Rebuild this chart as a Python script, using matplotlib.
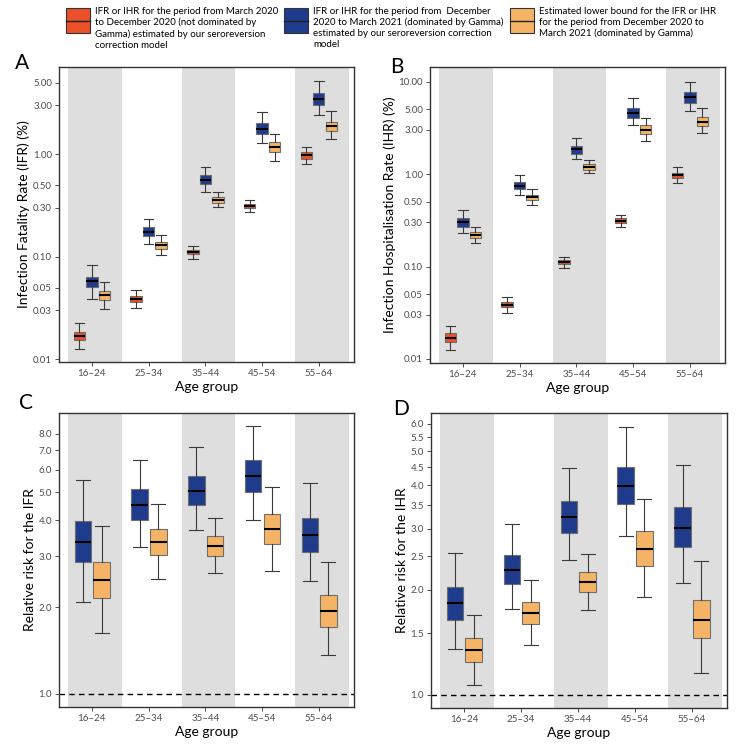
import matplotlib
matplotlib.use('Agg')
import matplotlib.pyplot as plt
from matplotlib.patches import Rectangle
from matplotlib.lines import Line2D

plt.rcParams['font.family'] = ['Lato', 'DejaVu Sans']

ages = ['16–24', '25–34', '35–44', '45–54', '55–64']

# each row: lower whisker, q1, median, q3, upper whisker (one row per age group)
ifr_first = [[0.0125, 0.0153, 0.0170, 0.0186, 0.0224],
             [0.0317, 0.0365, 0.0388, 0.0412, 0.0471],
             [0.0960, 0.1057, 0.1114, 0.1166, 0.1276],
             [0.272, 0.300, 0.313, 0.328, 0.356],
             [0.799, 0.907, 0.977, 1.046, 1.19]]
ifr_gamma = [[0.0391, 0.0504, 0.0577, 0.0641, 0.0832],
             [0.134, 0.160, 0.176, 0.194, 0.236],
             [0.432, 0.510, 0.566, 0.624, 0.758],
             [1.29, 1.58, 1.78, 2.01, 2.57],
             [2.42, 3.05, 3.47, 3.94, 5.19]]
ifr_lower = [[0.0308, 0.0379, 0.0421, 0.0468, 0.0573],
             [0.1035, 0.120, 0.1304, 0.1406, 0.162],
             [0.304, 0.338, 0.361, 0.386, 0.429],
             [0.855, 1.046, 1.17, 1.31, 1.59],
             [1.42, 1.69, 1.88, 2.08, 2.67]]

ihr_first = [[0.0126, 0.0153, 0.0170, 0.0191, 0.0226],
             [0.0318, 0.0363, 0.0388, 0.0418, 0.0473],
             [0.0959, 0.106, 0.1123, 0.118, 0.128],
             [0.271, 0.297, 0.312, 0.331, 0.357],
             [0.806, 0.905, 0.975, 1.04, 1.20]]
ihr_gamma = [[0.228, 0.271, 0.300, 0.331, 0.404],
             [0.587, 0.682, 0.748, 0.812, 0.968],
             [1.44, 1.67, 1.85, 2.03, 2.47],
             [3.37, 4.07, 4.62, 5.14, 6.60],
             [4.77, 5.93, 6.76, 7.66, 10.0]]
ihr_lower = [[0.1805, 0.204, 0.2185, 0.2336, 0.271],
             [0.462, 0.523, 0.559, 0.597, 0.682],
             [1.016, 1.12, 1.19, 1.27, 1.42],
             [2.26, 2.71, 3.02, 3.37, 4.07],
             [2.76, 3.31, 3.69, 4.11, 5.14]]

rr_ifr_gamma = [[2.09, 2.86, 3.37, 3.97, 5.50],
                [3.24, 4.01, 4.53, 5.12, 6.50],
                [3.71, 4.53, 5.06, 5.68, 7.17],
                [4.02, 5.02, 5.69, 6.50, 8.50],
                [2.46, 3.11, 3.56, 4.09, 5.40]]
rr_ifr_lower = [[1.63, 2.145, 2.48, 2.87, 3.81],
                [2.50, 3.03, 3.36, 3.72, 4.54],
                [2.62, 3.01, 3.26, 3.52, 4.08],
                [2.67, 3.32, 3.74, 4.21, 5.23],
                [1.36, 1.71, 1.94, 2.20, 2.86]]

rr_ihr_gamma = [[1.35, 1.644, 1.832, 2.045, 2.55],
                [1.76, 2.08, 2.29, 2.52, 3.09],
                [2.44, 2.92, 3.25, 3.61, 4.49],
                [2.85, 3.53, 3.99, 4.52, 5.885],
                [2.10, 2.65, 3.02, 3.46, 4.56]]
rr_ihr_lower = [[1.066, 1.241, 1.343, 1.457, 1.70],
                [1.394, 1.598, 1.722, 1.852, 2.13],
                [1.753, 1.974, 2.11, 2.25, 2.54],
                [1.905, 2.35, 2.63, 2.95, 3.64],
                [1.154, 1.454, 1.641, 1.87, 2.42]]

ticks_rate_a = [0.01, 0.03, 0.05, 0.10, 0.30, 0.50, 1.00, 3.00, 5.00]
ticks_rate_b = ticks_rate_a + [10.00]
ticks_rr_c = [1.0, 2.0, 3.0, 4.0, 5.0, 6.0, 7.0, 8.0]
ticks_rr_d = [1.0, 1.5, 2.0, 2.5, 3.0, 3.5, 4.0, 4.5, 5.0, 5.5, 6.0]

legend_labels = ['IFR or IHR for the period from March 2020\nto December 2020 (not dominated by\nGamma) estimated by our seroreversion\ncorrection model',
                 'IFR or IHR for the period from  December\n2020 to March 2021 (dominated by Gamma)\nestimated by our seroreversion correction\nmodel',
                 'Estimated lower bound for the IFR or IHR\nfor the period from December 2020 to\nMarch 2021 (dominated by Gamma)']

RED = '#EA5128'
BLUE = '#1F3C8C'
ORANGE = '#F5B465'
BAND = '#DEDEDE'

W, H = 749, 745
fig = plt.figure(figsize=(W / 100, H / 100), dpi=100)


def px_rect(l, t, r, b):
    return [l / W, 1 - b / H, (r - l) / W, (b - t) / H]


def panel(rect, series, colors, offsets, width, ylim, yticks, fmt, ylabel, letter, letter_xy, refline=False):
    ax = fig.add_axes(px_rect(*rect))
    ax.set_yscale('log')
    for i in range(len(ages)):
        if i % 2 == 0:
            ax.axvspan(i + 1 - 0.42, i + 1 + 0.53, color=BAND, lw=0, zorder=0)
    for data, col, off in zip(series, colors, offsets):
        stats = [dict(whislo=r[0], q1=r[1], med=r[2], q3=r[3], whishi=r[4]) for r in data]
        pos = [i + 1 + off for i in range(len(data))]
        ax.bxp(stats, positions=pos, widths=width, showfliers=False, patch_artist=True,
               manage_ticks=False, capwidths=width * 0.85,
               boxprops=dict(facecolor=col, edgecolor='#6E6E6E', lw=0.8),
               medianprops=dict(color='black', lw=1.5),
               whiskerprops=dict(color='#3A3A3A', lw=0.8),
               capprops=dict(color='#3A3A3A', lw=0.8))
    if refline:
        ax.axhline(1.0, color='black', ls=(0, (4, 3)), lw=1.0, zorder=1)
    ax.set_xlim(0.42, 5.62)
    ax.set_ylim(*ylim)
    ax.set_xticks(range(1, len(ages) + 1))
    ax.set_xticklabels(ages)
    ax.set_yticks(yticks)
    ax.set_yticklabels([fmt % v for v in yticks])
    ax.minorticks_off()
    ax.tick_params(labelsize=7, colors='#4D4D4D', length=3, width=0.7, pad=2)
    for s in ax.spines.values():
        s.set_color('#333333')
        s.set_linewidth(1.0)
    ax.set_xlabel('Age group', fontsize=10, labelpad=2)
    ax.set_ylabel(ylabel, fontsize=10, labelpad=2)
    fig.text(letter_xy[0] / W, 1 - letter_xy[1] / H, letter, fontsize=15, ha='center', va='center')
    return ax


panel((59, 67, 354, 362), [ifr_first, ifr_gamma, ifr_lower], [RED, BLUE, ORANGE],
      [-0.22, 0, 0.22], 0.2, (0.0094, 7.1), ticks_rate_a, '%.2f',
      'Infection Fatality Rate (IFR) (%)', 'A', (22, 63))
panel((430, 67, 725, 363), [ihr_first, ihr_gamma, ihr_lower], [RED, BLUE, ORANGE],
      [-0.22, 0, 0.22], 0.2, (0.00905, 14.4), ticks_rate_b, '%.2f',
      'Infection Hospitalisation Rate (IHR) (%)', 'B', (397, 67))
panel((59, 413, 354, 707), [rr_ifr_gamma, rr_ifr_lower], [BLUE, ORANGE],
      [-0.16, 0.17], 0.29, (0.9, 9.43), ticks_rr_c, '%.1f',
      'Relative risk for the IFR', 'C', (26, 403), refline=True)
panel((431, 413, 727, 708), [rr_ihr_gamma, rr_ihr_lower], [BLUE, ORANGE],
      [-0.16, 0.17], 0.29, (0.916, 6.45), ticks_rr_d, '%.1f',
      'Relative risk for the IHR', 'D', (401, 409), refline=True)

# legend keys drawn in figure pixels
for x0, col, lab in zip([66, 284, 510], [RED, BLUE, ORANGE], legend_labels):
    fig.add_artist(Rectangle((x0 / W, 1 - 33 / H), 24 / W, 25 / H, transform=fig.transFigure,
                             facecolor=col, edgecolor='#333333', lw=0.8))
    fig.add_artist(Line2D([x0 / W, (x0 + 24) / W], [1 - 20.5 / H] * 2, transform=fig.transFigure,
                          color='#222222', lw=1.0))
    fig.text((x0 + 29) / W, 1 - 7 / H, lab, fontsize=7, va='top', ha='left',
             family=['Liberation Sans Narrow', 'Lato', 'DejaVu Sans'], linespacing=1.25)

fig.savefig('out.png', dpi=100)
